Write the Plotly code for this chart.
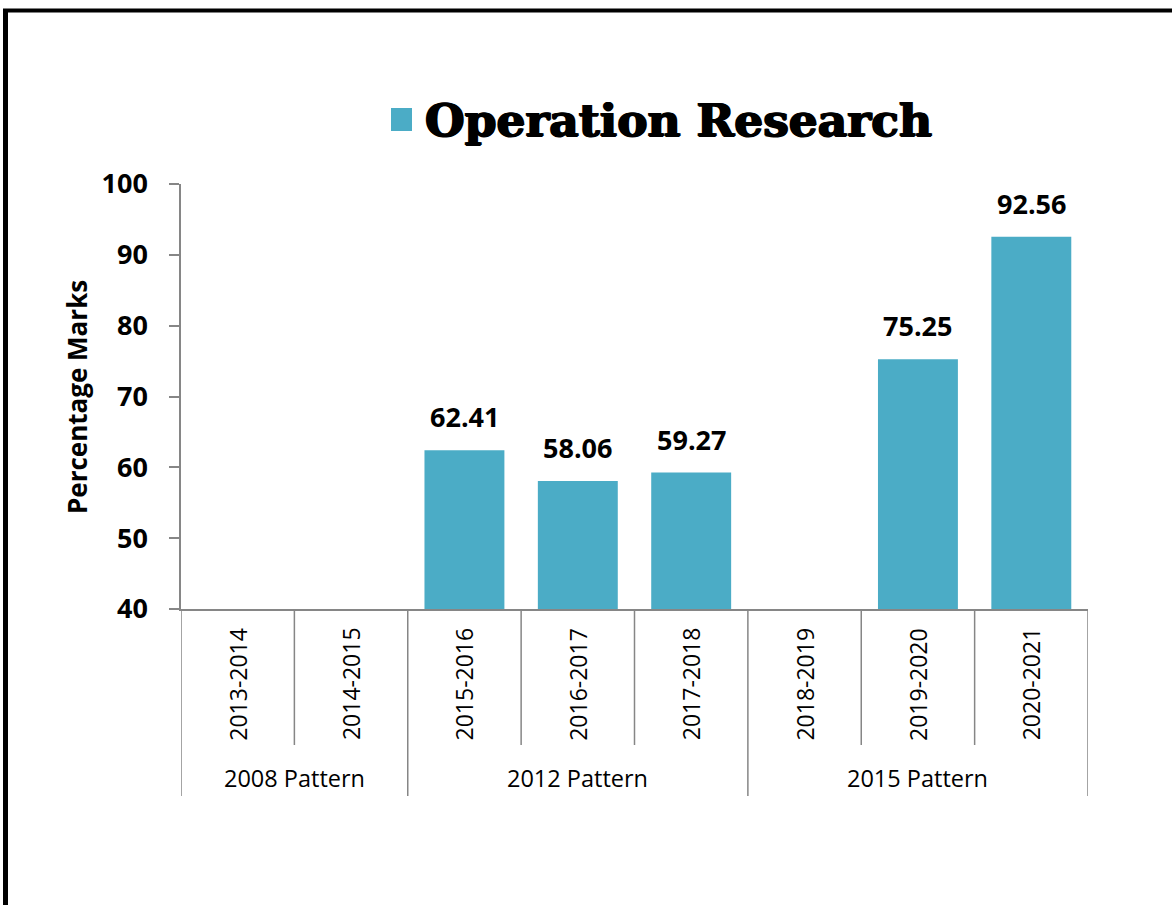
import plotly.graph_objects as go

# ---- data ----
years = ["2013-2014", "2014-2015", "2015-2016", "2016-2017", "2017-2018",
         "2018-2019", "2019-2020", "2020-2021"]
marks = [None, None, 62.41, 58.06, 59.27, None, 75.25, 92.56]
patterns = ["2008 Pattern", "2012 Pattern", "2015 Pattern"]
pattern_sizes = [2, 3, 3]
series_name = "Operation Research"
y_ticks = [40, 50, 60, 70, 80, 90, 100]

# ---- layout constants (pixels) ----
W, H = 1172, 905
L, R, T, B = 181, 1088, 184, 609
BAR_COLOR = "#4BACC6"
AXIS_COLOR = "#868686"
FONT = "Open Sans"


def px(x):
    return (x - L) / (R - L)


def py(y):
    return (B - y) / (B - T)


fig = go.Figure()
fig.add_trace(go.Bar(
    x=years, y=marks, name=series_name, marker_color=BAR_COLOR,
    marker_line_width=0, showlegend=False,
))

annotations = []
shapes = []

# data labels
for yr, v in zip(years, marks):
    if v is None:
        continue
    annotations.append(dict(
        x=yr, y=v, xref="x", yref="y", text=f"{v:.2f}", showarrow=False,
        yanchor="bottom", yshift=13,
        font=dict(family=FONT, size=27, color="black", weight="bold"),
    ))

# inner category labels (rotated) and dividers
for i, yr in enumerate(years):
    annotations.append(dict(
        x=i, y=py(684), xref="x", yref="paper", text=yr, showarrow=False,
        textangle=-90, xanchor="center", yanchor="middle",
        font=dict(family=FONT, size=23, color="black"),
    ))

group_edges = [-0.5]
for s in pattern_sizes:
    group_edges.append(group_edges[-1] + s)

for k in range(len(years) + 1):
    xe = k - 0.5
    bottom = py(796) if xe in group_edges else py(745)
    shapes.append(dict(type="line", xref="x", yref="paper", x0=xe, x1=xe,
                       y0=0, y1=bottom, line=dict(color=AXIS_COLOR, width=1.5)))

# group labels
for g, name in enumerate(patterns):
    c = (group_edges[g] + group_edges[g + 1]) / 2
    annotations.append(dict(
        x=c, y=py(778), xref="x", yref="paper", text=name, showarrow=False,
        xanchor="center", yanchor="middle",
        font=dict(family=FONT, size=23.5, color="black"),
    ))

# y axis title
annotations.append(dict(
    x=px(77), y=py(397), xref="paper", yref="paper", text="Percentage Marks",
    showarrow=False, textangle=-90, xanchor="center", yanchor="middle",
    font=dict(family=FONT, size=26, color="black", weight="bold"),
))

# legend-like title
shapes.append(dict(type="rect", xref="paper", yref="paper",
                   x0=px(391), x1=px(412), y0=py(131), y1=py(108),
                   fillcolor=BAR_COLOR, line=dict(width=0)))
annotations.append(dict(
    x=px(423), y=py(120), xref="paper", yref="paper", text=series_name,
    showarrow=False, xanchor="left", yanchor="middle",
    font=dict(family="DejaVu Serif", size=45.5, color="black", weight="bold",
              shadow="1px 0 0 black, -1px 0 0 black, 0 1px 0 black"),
))

# outer border (left and top)
shapes.append(dict(type="line", xref="paper", yref="paper",
                   x0=px(5.5), x1=px(5.5), y0=py(9), y1=py(920),
                   line=dict(color="black", width=5)))
shapes.append(dict(type="line", xref="paper", yref="paper",
                   x0=px(3), x1=px(1180), y0=py(10.5), y1=py(10.5),
                   line=dict(color="black", width=4)))

fig.update_layout(
    width=W, height=H,
    margin=dict(l=L, r=W - R, t=T, b=H - B, pad=0),
    paper_bgcolor="white", plot_bgcolor="white",
    bargap=0.295,
    annotations=annotations,
    shapes=shapes,
    showlegend=False,
)
fig.update_xaxes(
    type="category", categoryorder="array", categoryarray=years,
    range=[-0.5, len(years) - 0.5],
    showticklabels=False, ticks="", showgrid=False, zeroline=False,
    showline=True, linecolor=AXIS_COLOR, linewidth=1.5,
)
fig.update_yaxes(
    range=[40, 100], tickvals=y_ticks, ticks="outside", ticklen=10,
    tickcolor=AXIS_COLOR, tickwidth=1.5,
    showline=True, linecolor=AXIS_COLOR, linewidth=1.5,
    showgrid=False, zeroline=False, ticklabelstandoff=16,
    tickfont=dict(family=FONT, size=27, color="black", weight="bold"),
)

fig.write_html("out.html",
               config={"displayModeBar": False},
               post_script="document.body.style.margin='0px';")
